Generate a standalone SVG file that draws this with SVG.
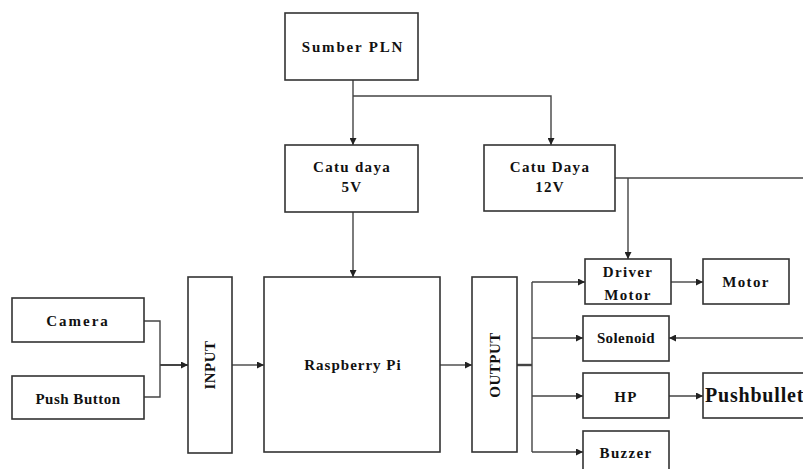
<svg xmlns="http://www.w3.org/2000/svg" width="803" height="469" viewBox="0 0 803 469">
<defs>
<marker id="ah" viewBox="0 0 10 10" refX="10" refY="5" markerWidth="7" markerHeight="7" markerUnits="userSpaceOnUse" orient="auto"><path d="M0,0 L10,5 L0,10 z" fill="#222"/></marker>
</defs>
<style>
.box{fill:#fff;stroke:#333;stroke-width:1.6}
.t{font-family:"Liberation Serif","Times New Roman",serif;font-weight:bold;font-size:15px;fill:#111;text-anchor:middle;letter-spacing:1.3px}
.c{fill:none;stroke:#444;stroke-width:1.4}
.ca{fill:none;stroke:#444;stroke-width:1.4;marker-end:url(#ah)}
</style>
<rect width="803" height="469" fill="#fff"/>
<g id="connectors">
<path class="ca" d="M353,80 V145"/>
<path class="ca" d="M353,96 H551 V145"/>
<path class="ca" d="M353,212 V277"/>
<path class="c" d="M144,321 H160 V397 H144"/>
<path class="ca" d="M160,365 H188" style="stroke-width:2"/>
<path class="ca" d="M232,365 H264"/>
<path class="ca" d="M440,365 H472"/>
<path class="c" d="M517,365 H532" style="stroke-width:2.4"/>
<path class="c" d="M532,282 V452"/>
<path class="ca" d="M532,282 H585"/>
<path class="ca" d="M532,338 H583"/>
<path class="ca" d="M532,396 H583"/>
<path class="ca" d="M532,452 H583"/>
<path class="c" d="M615,178 H803"/>
<path class="ca" d="M628,178 V259"/>
<path class="ca" d="M803,338 H669"/>
<path class="ca" d="M671,282 H703"/>
<path class="ca" d="M669,396 H703"/>
</g>
<g id="sumber"><rect class="box" x="285" y="13" width="133" height="67"/><text class="t" x="353" y="52" style="letter-spacing:1.8px">Sumber PLN</text></g>
<g id="catu5"><rect class="box" x="285" y="145" width="133" height="67"/><text class="t" x="352" y="172">Catu daya</text><text class="t" x="352" y="192">5V</text></g>
<g id="catu12"><rect class="box" x="484" y="145" width="131" height="66"/><text class="t" x="550" y="172">Catu Daya</text><text class="t" x="550" y="192">12V</text></g>
<g id="camera"><rect class="box" x="12" y="298" width="132" height="44"/><text class="t" x="78" y="326" style="letter-spacing:2px">Camera</text></g>
<g id="pushbutton"><rect class="box" x="12" y="376" width="132" height="43"/><text class="t" x="78" y="404" style="letter-spacing:0.5px">Push Button</text></g>
<g id="input"><rect class="box" x="188" y="277" width="44" height="176"/><text class="t" transform="translate(215,365) rotate(-90)" style="letter-spacing:0.5px">INPUT</text></g>
<g id="raspberry"><rect class="box" x="264" y="277" width="176" height="175"/><text class="t" x="353" y="370" style="letter-spacing:1px">Raspberry Pi</text></g>
<g id="output"><rect class="box" x="472" y="277" width="45" height="175"/><text class="t" transform="translate(500,365) rotate(-90)" style="letter-spacing:0.5px">OUTPUT</text></g>
<g id="driver"><rect class="box" x="585" y="259" width="86" height="45"/><text class="t" x="628" y="277">Driver</text><text class="t" x="628" y="300">Motor</text></g>
<g id="motor"><rect class="box" x="703" y="259" width="86" height="45"/><text class="t" x="746" y="287">Motor</text></g>
<g id="solenoid"><rect class="box" x="583" y="316" width="86" height="45"/><text class="t" x="626" y="343" style="letter-spacing:0.4px">Solenoid</text></g>
<g id="hp"><rect class="box" x="583" y="373" width="86" height="45"/><text class="t" x="626" y="402">HP</text></g>
<g id="pushbullet"><rect class="box" x="703" y="373" width="110" height="45"/><text class="t" x="705" y="402" style="text-anchor:start;font-size:20px;letter-spacing:0.8px">Pushbullet</text></g>
<g id="buzzer"><rect class="box" x="583" y="431" width="86" height="45"/><text class="t" x="626" y="458">Buzzer</text></g>
</svg>
